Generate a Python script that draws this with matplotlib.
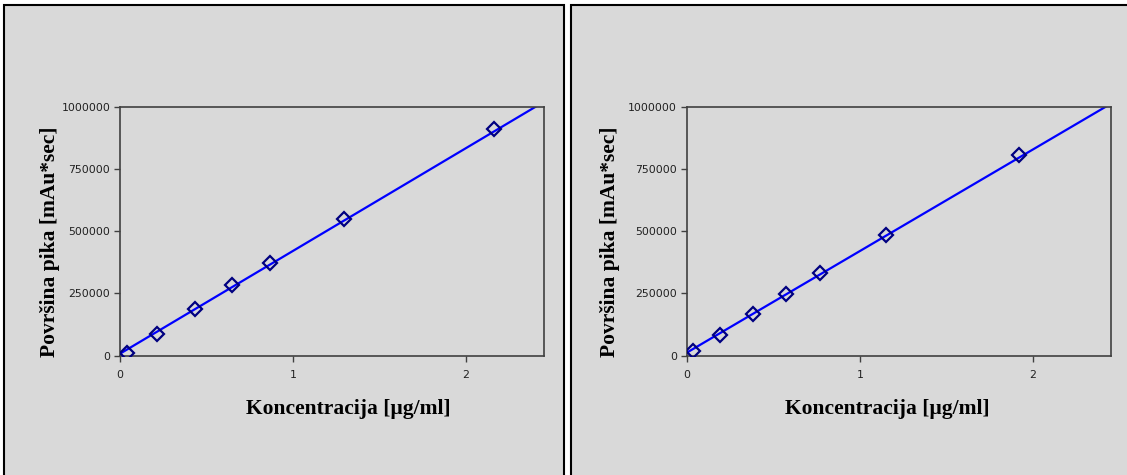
import numpy as np
import matplotlib
matplotlib.use("Agg")
import matplotlib.pyplot as plt
from matplotlib.patches import Rectangle

# Calibration data
conc_left = [0.043, 0.216, 0.432, 0.648, 0.864, 1.296, 2.16]
area_left = [9000, 87000, 187000, 285000, 372000, 549000, 909000]
trend_left = [413000, 8000]    # slope, intercept of the drawn trendline

conc_right = [0.038, 0.192, 0.384, 0.576, 0.768, 1.152, 1.92]
area_right = [20000, 83000, 167000, 248000, 332000, 486000, 806000]
trend_right = [408000, 12000]

x_ticks = [0, 1, 2]
y_ticks = [0, 250000, 500000, 750000, 1000000]

x_label = "Koncentracija [µg/ml]"
y_label = "Površina pika [mAu*sec]"

W, H = 1127, 475
BG = "#d9d9d9"
serif = ["Liberation Serif", "DejaVu Serif"]

fig = plt.figure(figsize=(W / 100, H / 100), dpi=100)
fig.patch.set_facecolor("white")

# panel frames
for x0, x1 in [(4, 564), (571, 1140)]:
    fig.patches.append(
        Rectangle((x0 / W, -0.05), (x1 - x0) / W, (H - 5) / H + 0.05,
                  transform=fig.transFigure, facecolor=BG,
                  edgecolor="black", linewidth=1.5, zorder=-5)
    )

panels = [
    (conc_left, area_left, trend_left, 120, 50, 348),
    (conc_right, area_right, trend_right, 686.7, 610, 887),
]

for conc, area, trend, ax_left, ylab_x, xlab_x in panels:
    ax = fig.add_axes([ax_left / W, (H - 355.7) / H, 424 / W, 249 / H])
    ax.set_zorder(2)
    ax.set_facecolor(BG)
    for sp in ax.spines.values():
        sp.set_color("#404040")
        sp.set_linewidth(1.2)

    xs = np.array([0, 2.45])
    ax.plot(xs, trend[0] * xs + trend[1], color="#0000ff", lw=1.6, zorder=2)
    ax.plot(conc, area, linestyle="none", marker="D", markersize=7.5,
            markerfacecolor="none", markeredgecolor="#000080",
            markeredgewidth=1.6, zorder=3)

    ax.set_xlim(0, 2.45)
    ax.set_ylim(0, 1000000)
    ax.set_xticks(x_ticks)
    ax.set_yticks(y_ticks)
    ax.set_yticklabels([str(v) for v in y_ticks])
    ax.tick_params(direction="out", length=4, width=1, color="#404040",
                   labelsize=7.8, labelcolor="#202020", pad=3)
    ax.tick_params(axis="x", pad=6)

    fig.text(xlab_x / W, (H - 409) / H, x_label, ha="center", va="center",
             family=serif, fontweight="bold", fontsize=15.5, zorder=3)
    fig.text(ylab_x / W, (H - 242) / H, y_label, ha="center", va="center",
             rotation=90, family=serif, fontweight="bold", fontsize=15.5,
             zorder=3)

fig.savefig("out.png", dpi=100, facecolor=fig.get_facecolor())
